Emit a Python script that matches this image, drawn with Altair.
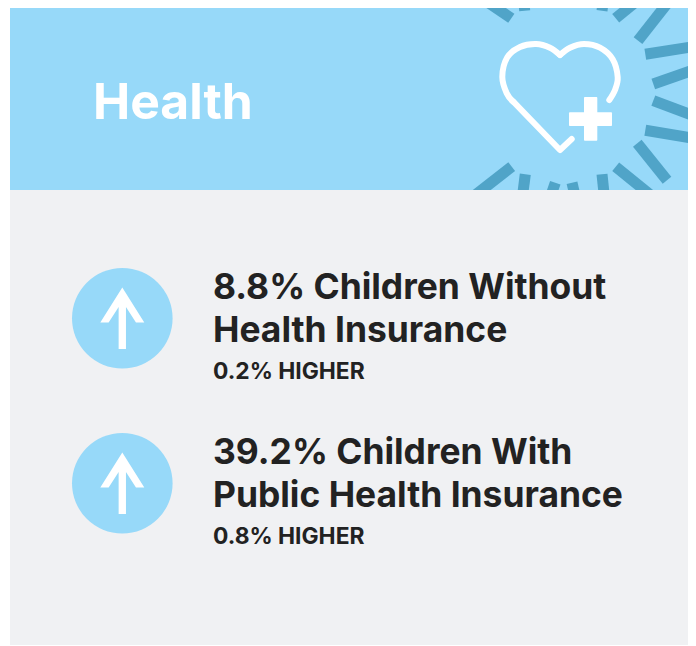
import altair as alt
import pandas as pd

# Card panels (page coordinates)
panel_x0 = [10, 10]
panel_x1 = [688, 688]
panel_y0 = [5, 190]
panel_y1 = [190, 645]
panel_col = ["#97d9f9", "#f0f1f3"]

# Sun rays around the icon
ray_x0 = [511.3, 524.7, 602, 615.7, 638, 645.3, 653.3, 653.3, 645.3, 637.3, 615.7, 602, 572, 555.3, 525.3, 511.7]
ray_y0 = [18.3, 10.7, 10.7, 18.3, 40.7, 54.3, 84, 100.7, 130.3, 143.3, 166.7, 174.3, 182.7, 182.7, 174.3, 166.7]
ray_x1 = [480, 523.3, 604, 641.7, 671.7, 693.3, 693.3, 693.3, 693.3, 667, 656.7, 604.7, 576, 549.3, 522, 473.3]
ray_y1 = [-3, -5, -5, -3, -2.3, 46.7, 70, 115.7, 138.3, 180.3, 200, 200, 200, 200, 200, 196.7]

# Heart outline
lobe_l_x = [560, 550, 536, 520, 507.3, 502.3, 506.7, 513.3]
lobe_l_y = [55, 47.7, 44, 47, 57.3, 76.7, 93.3, 101.7]
lobe_r_x = [560, 570, 584, 600, 612.7, 617.7, 615, 609.3]
lobe_r_y = [55, 47.7, 44, 47.7, 59.3, 77.3, 90, 100]
tail_x = [513.3, 560, 571.7]
tail_y = [101.7, 150, 139]

# Plus sign
plus_x0 = [584, 569]
plus_x1 = [597.3, 612]
plus_y0 = [97, 112.3]
plus_y1 = [140.7, 126]

# Indicator circles
circle_x = [122.3, 122.3]
circle_y = [318.3, 483.3]

# Text
txt = ["Health", "8.8% Children Without", "Health Insurance", "0.2% HIGHER",
       "39.2% Children With", "Public Health Insurance", "0.8% HIGHER"]
txt_x = [93, 213, 213, 213, 213, 213, 213]
txt_y = [119, 298.7, 341.7, 379, 463.7, 506.7, 544]
txt_kind = ["head", "main", "main", "sub", "main", "main", "sub"]

FONT = "Inter"
ARROW = ("M0,-0.93 L0.667,0.131 L0.414,0.131 L0.111,-0.343 L0.111,0.929 "
         "L-0.111,0.929 L-0.111,-0.343 L-0.414,0.131 L-0.667,0.131 Z")

X = alt.X("x:Q", scale=alt.Scale(domain=[8, 688]), axis=None)
Y = alt.Y("y:Q", scale=alt.Scale(domain=[646, 8]), axis=None)

panels = alt.Chart(pd.DataFrame(dict(x=panel_x0, x2=panel_x1, y=panel_y0, y2=panel_y1, c=panel_col)))
header = panels.transform_filter("datum.y < 100").mark_rect(color=panel_col[0], clip=True).encode(X, Y, x2="x2:Q", y2="y2:Q")
body = panels.transform_filter("datum.y > 100").mark_rect(color=panel_col[1], clip=True).encode(X, Y, x2="x2:Q", y2="y2:Q")

rays = alt.Chart(pd.DataFrame(dict(x=ray_x0, y=ray_y0, x2=ray_x1, y2=ray_y1))).mark_rule(
    color="#50a4c8", strokeWidth=11).encode(X, Y, x2="x2:Q", y2="y2:Q")


def heart_line(xs, ys, interp):
    df = pd.DataFrame(dict(x=xs, y=ys, o=list(range(len(xs)))))
    return alt.Chart(df).mark_line(color="white", strokeWidth=6, strokeCap="round", strokeJoin="round",
                                   interpolate=interp).encode(X, Y, order="o:Q")


plus = alt.Chart(pd.DataFrame(dict(x=plus_x0, x2=plus_x1, y=plus_y0, y2=plus_y1))).mark_rect(
    color="white", cornerRadius=1).encode(X, Y, x2="x2:Q", y2="y2:Q")

points = pd.DataFrame(dict(x=circle_x, y=circle_y))
circles = alt.Chart(points).mark_point(filled=True, opacity=1, color="#97d9f9", size=10120, shape="circle").encode(X, Y)
arrows = alt.Chart(points).mark_point(filled=True, opacity=1, color="white", size=4356, shape=ARROW).encode(X, Y)

text_df = pd.DataFrame(dict(x=txt_x, y=txt_y, t=txt, k=txt_kind))


def text_layer(kind, size, color, weight):
    return alt.Chart(text_df).transform_filter(f"datum.k == '{kind}'").mark_text(
        font=FONT, fontSize=size, fontWeight=weight, color=color, align="left", baseline="alphabetic"
    ).encode(X, Y, text="t:N")


chart = alt.layer(
    header, rays, body,
    heart_line(lobe_l_x, lobe_l_y, "cardinal"),
    heart_line(lobe_r_x, lobe_r_y, "cardinal"),
    heart_line(tail_x, tail_y, "linear"),
    plus, circles, arrows,
    text_layer("head", 49.8, "white", 700),
    text_layer("main", 35.4, "#222222", 700),
    text_layer("sub", 22.8, "#222222", 700),
).properties(width=680, height=638, padding=0,
             autosize=alt.AutoSizeParams(type="none")).configure_view(strokeWidth=0)

chart.save("out.html", embed_options={"renderer": "svg", "actions": False})
